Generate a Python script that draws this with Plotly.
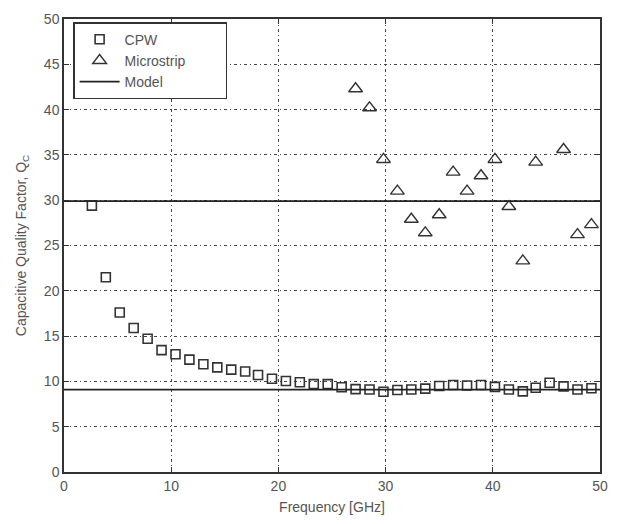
import plotly.graph_objects as go

# Frequencies (GHz) at which CPW was measured
freq_cpw = [2.6, 3.9, 5.2, 6.5, 7.8, 9.1, 10.4, 11.7, 13.0, 14.3, 15.6, 16.9, 18.1,
            19.4, 20.7, 22.0, 23.3, 24.6, 25.9, 27.2, 28.5, 29.8, 31.1, 32.4, 33.7,
            35.0, 36.3, 37.6, 38.9, 40.2, 41.5, 42.8, 44.0, 45.3, 46.6, 47.9, 49.2]
q_cpw = [29.4, 21.5, 17.6, 15.9, 14.7, 13.45, 13.0, 12.4, 11.9, 11.55, 11.3, 11.1, 10.7,
         10.3, 10.05, 9.9, 9.7, 9.7, 9.35, 9.15, 9.1, 8.85, 9.05, 9.1, 9.2,
         9.5, 9.6, 9.55, 9.6, 9.4, 9.1, 8.9, 9.3, 9.85, 9.45, 9.1, 9.25]

freq_ms = [27.2, 28.5, 29.8, 31.1, 32.4, 33.7, 35.0, 36.3, 37.6, 38.9, 40.2, 41.5,
           42.8, 44.0, 46.6, 47.9, 49.2]
q_ms = [42.3, 40.2, 34.5, 31.0, 27.9, 26.4, 28.4, 33.1, 31.0, 32.7, 34.5, 29.3,
        23.3, 34.2, 35.6, 26.2, 27.3]

model_levels = [9.1, 29.9]
x_range = [0, 50]

model_x, model_y = [], []
for lv in model_levels:
    model_x += [x_range[0], x_range[1], None]
    model_y += [lv, lv, None]

FONT = "Liberation Sans, Arial, sans-serif"
TXT = "#555555"
PAD = "\u00a0" * 9

fig = go.Figure()
fig.add_trace(go.Scatter(
    x=freq_cpw, y=q_cpw, mode="markers", name="CPW",
    marker=dict(symbol="square-open", size=9, color="#333333", line=dict(width=1.6)),
))
fig.add_trace(go.Scatter(
    x=freq_ms, y=q_ms, mode="markers", name="Microstrip" + PAD,
    marker=dict(symbol="triangle-up-open", size=12, color="#333333", line=dict(width=1.4)),
))
fig.add_trace(go.Scatter(
    x=model_x, y=model_y, mode="lines", name="Model",
    line=dict(color="#222222", width=1.8),
))

axis_common = dict(
    showline=True, linecolor="#333333", linewidth=1.5, mirror="ticks",
    ticks="inside", ticklen=5, tickcolor="#333333", tickwidth=1.2,
    showgrid=True, gridcolor="#444444", gridwidth=1, griddash="3px,3px,1px,3px",
    zeroline=False,
    tickfont=dict(family=FONT, size=14, color=TXT),
)

fig.update_xaxes(range=x_range, dtick=10, tick0=0,
                 title=dict(text="Frequency [GHz]", standoff=10,
                            font=dict(family=FONT, size=14, color=TXT)),
                 **axis_common)
fig.update_yaxes(range=[0, 50], dtick=5, tick0=0,
                 title=dict(text="Capacitive Quality Factor, Q<sub>C</sub>", standoff=14,
                            font=dict(family=FONT, size=14, color=TXT)),
                 **axis_common)

fig.update_layout(
    width=619, height=524,
    margin=dict(l=64, r=11, t=16, b=51),
    paper_bgcolor="white", plot_bgcolor="white",
    showlegend=True,
    legend=dict(
        x=0.017, y=0.993, xanchor="left", yanchor="top",
        bgcolor="white", bordercolor="#333333", borderwidth=1.5,
        font=dict(family=FONT, size=14, color=TXT),
        tracegroupgap=0, itemwidth=40,
    ),
)

fig.write_html("out.html")
